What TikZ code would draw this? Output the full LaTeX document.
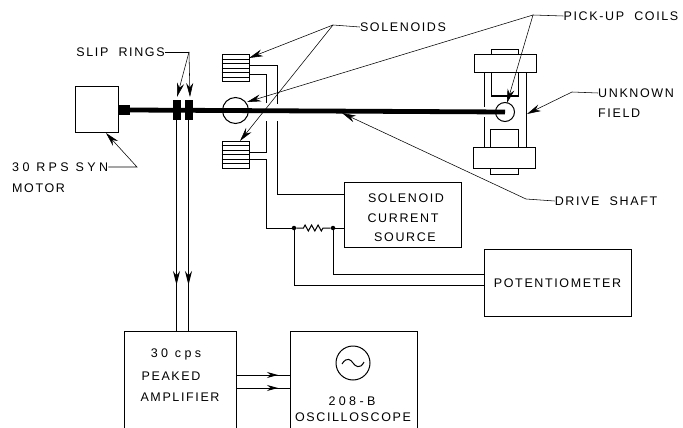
\documentclass[tikz,border=0pt]{standalone}
\usepackage{fontspec}
\setmainfont[LetterSpace=13]{Liberation Sans}
\newfontface\widefont[LetterSpace=27]{Liberation Sans}
\usetikzlibrary{positioning,shapes,arrows.meta,decorations.pathmorphing}

\tikzset{
	box/.style={draw, rectangle, line width=1pt, inner sep=0pt},
	lbl/.style={font=\fontsize{12.5}{14}\selectfont, inner sep=0pt},
	lblwide/.style={font=\fontsize{12.5}{14}\selectfont\widefont, inner sep=0pt},
	wire/.style={line width=1pt},
	leader/.style={line width=0.55pt},
	tip/.style={-{Stealth[length=14pt,width=7pt]}},
	tipshort/.style={-{Stealth[length=11pt,width=6pt]}},
	shaft/.style={line width=4.8pt},
	dot/.style={circle, fill, inner sep=0pt, minimum size=4.5pt}
}

\begin{document}
\begin{tikzpicture}[x=1pt,y=-1pt]
		\path[use as bounding box, clip] (0, 0) rectangle (683, 428);
		
		% motor and shaft
		\node[box, minimum width=43pt, minimum height=45pt] (motor) at (96.5, 109.5) {};
		\node[box, fill, minimum width=11pt, minimum height=9pt] (stub) at (124, 110) {};
		\node[box, fill, minimum width=7pt, minimum height=19pt] (ringa) at (176.5, 110) {};
		\node[box, fill, minimum width=7pt, minimum height=19pt] (ringb) at (188.5, 110) {};
		\node[draw, circle, line width=1pt, minimum size=26pt, inner sep=0pt] (coilleft) at (235.5, 110.5) {};
		\node[draw, circle, line width=1pt, minimum size=19pt, inner sep=0pt] (coilright) at (505, 112) {};
		\draw[shaft] (stub.east) -- (coilright.center);
		
		% solenoids
		\node[box, minimum width=27pt, minimum height=27pt] (solup) at (235.5, 68.5) {};
		\node[box, minimum width=27pt, minimum height=27pt] (sollow) at (235.5, 154.5) {};
		\foreach \y in {-9, -4.5, 0, 4.5, 9} {
			\draw[wire] ([yshift=\y pt]solup.west) -- ([yshift=\y pt]solup.east);
			\draw[wire] ([yshift=\y pt]sollow.west) -- ([yshift=\y pt]sollow.east);
		}
		
		% field magnet
		\node[box, minimum width=62pt, minimum height=18pt] (platetop) at (505, 64) {};
		\node[box, minimum width=62pt, minimum height=21pt] (platelow) at (504, 157.5) {};
		\node[box, minimum width=27pt, minimum height=5pt] (tabtop) at (504.5, 52.5) {};
		\node[box, minimum width=28pt, minimum height=6pt] (tablow) at (504, 171) {};
		\node[box, minimum width=27pt, minimum height=23pt] (poletop) at (504.5, 84.5) {};
		\node[box, minimum width=28pt, minimum height=18pt] (polelow) at (504, 138) {};
		\coordinate (yokea) at (484, 73);
		\coordinate (yokeb) at (484, 107);
		\coordinate (yokec) at (484, 117);
		\coordinate (yoked) at (484, 147);
		\coordinate (yokee) at (526, 73);
		\coordinate (yokef) at (526, 147);
		\draw[wire] (yokea) -- (yokeb);
		\draw[wire] (yokec) -- (yoked);
		\draw[wire] (yokee) -- (yokef);
		
		% blocks
		\node[box, minimum width=117pt, minimum height=65pt] (source) at (402.5, 214.5) {};
		\node[box, minimum width=147pt, minimum height=67pt] (pot) at (557.5, 282.5) {};
		\node[box, minimum width=112pt, minimum height=120pt] (amp) at (180, 391) {};
		\node[box, minimum width=127pt, minimum height=120pt] (scope) at (353.5, 391) {};
		\node[draw, circle, line width=1pt, minimum size=34pt, inner sep=0pt] (sine) at (353, 363) {};
		\coordinate (sinea) at (342, 364);
		\coordinate (sineb) at (364, 362);
		\draw[wire] (sinea) .. controls (347, 356) and (351, 360) .. (353, 363) .. controls (355, 366) and (360, 370) .. (sineb);
		
		% solenoid wiring
		\coordinate (ua) at (249, 66);
		\coordinate (ub) at (277, 66);
		\coordinate (uc) at (277, 104);
		\coordinate (ud) at (277, 121);
		\coordinate (ue) at (277, 194);
		\coordinate (uf) at (344, 194);
		\draw[wire] (ua) -- (ub) -- (uc);
		\draw[wire] (ud) -- (ue) -- (uf);
		\coordinate (va) at (249, 75);
		\coordinate (vb) at (266, 75);
		\coordinate (vc) at (266, 103);
		\coordinate (vd) at (266, 121);
		\coordinate (ve) at (266, 152);
		\coordinate (vf) at (249, 152);
		\draw[wire] (va) -- (vb) -- (vc);
		\draw[wire] (vd) -- (ve) -- (vf);
		
		% resistor
		\node[dot] (resl) at (294, 228) {};
		\node[dot] (resr) at (333, 228) {};
		\coordinate (wa) at (249, 159);
		\coordinate (wb) at (266, 159);
		\coordinate (wc) at (266, 228);
		\coordinate (wd) at (344, 228);
		\draw[wire] (wa) -- (wb) -- (wc) -- (resl);
		\draw[wire, decorate, decoration={zigzag, amplitude=3pt, segment length=6.5pt, pre length=7pt, post length=6pt}] (resl) -- (resr);
		\draw[wire] (resr) -- (wd);
		\coordinate (pa) at (294, 285);
		\coordinate (pb) at (484, 285);
		\coordinate (qa) at (333, 274);
		\coordinate (qb) at (484, 274);
		\draw[wire] (resl) -- (pa) -- (pb);
		\draw[wire] (resr) -- (qa) -- (qb);
		
		% signal wires
		\coordinate (ra) at (176.5, 119);
		\coordinate (rb) at (176.5, 285);
		\coordinate (rc) at (176.5, 331);
		\coordinate (sa) at (188.5, 119);
		\coordinate (sb) at (188.5, 285);
		\coordinate (sc) at (188.5, 331);
		\draw[wire] (ra) -- (rc);
		\draw[wire, tip] (ra) -- (rb);
		\draw[wire] (sa) -- (sc);
		\draw[wire, tip] (sa) -- (sb);
		\coordinate (ta) at (236, 375);
		\coordinate (tb) at (278, 375);
		\coordinate (tc) at (290, 375);
		\coordinate (xa) at (236, 388);
		\coordinate (xb) at (278, 388);
		\coordinate (xc) at (290, 388);
		\draw[wire] (ta) -- (tc);
		\draw[wire, tipshort] (ta) -- (tb);
		\draw[wire] (xa) -- (xc);
		\draw[wire, tipshort] (xa) -- (xb);
		
		% labels
		\node[lbl] (slip) at (120.5, 52) {SLIP~~RINGS};
		\node[lblwide, anchor=west] (syn) at (12, 167) {30 RPS SYN};
		\node[lbl, anchor=west] (mot) at (12, 188) {MOTOR};
		\node[lbl] (sol) at (403, 27) {SOLENOIDS};
		\node[lbl] (pick) at (621, 16) {PICK-UP~~COILS};
		\node[lbl, anchor=west] (unk) at (598, 93) {UNKNOWN};
		\node[lbl, anchor=west] (fld) at (598, 113) {FIELD};
		\node[lbl] (drive) at (606, 201) {DRIVE~~SHAFT};
		\node[lbl] (srca) at (406, 198) {SOLENOID};
		\node[lbl] (srcb) at (403, 218) {CURRENT};
		\node[lbl] (srcc) at (405, 237) {SOURCE};
		\node[lbl] (pott) at (557.5, 283) {POTENTIOMETER};
		\node[lblwide] (ampa) at (176, 354) {30 cps};
		\node[lbl] (ampb) at (171, 376) {PEAKED};
		\node[lbl] (ampc) at (180, 397) {AMPLIFIER};
		\node[lblwide] (scpa) at (352, 401) {208-B};
		\node[lbl] (scpb) at (353, 417) {OSCILLOSCOPE};
		
		% leaders
		\coordinate (sliphub) at (189, 52);
		\coordinate (slipa) at (177, 97);
		\coordinate (slipb) at (190, 97);
		\draw[leader] (slip.east) -- (sliphub);
		\draw[leader, tip] (sliphub) -- (slipa);
		\draw[leader, tip] (sliphub) -- (slipb);
		\coordinate (synhub) at (137, 167);
		\coordinate (syntip) at (106, 133);
		\draw[leader, tip] (syn.east) -- (synhub) -- (syntip);
		\coordinate (solhub) at (333, 25);
		\coordinate (solupt) at (249, 58);
		\coordinate (sollowt) at (240, 141);
		\draw[leader] (sol.west) -- (solhub);
		\draw[leader, tip] (solhub) -- (solupt);
		\draw[leader, tip] (solhub) -- (sollowt);
		\coordinate (pickhub) at (533, 15);
		\coordinate (picklt) at (247, 102);
		\coordinate (pickrt) at (507, 103);
		\draw[leader] (pick.west) -- (pickhub);
		\draw[leader, tip] (pickhub) -- (picklt);
		\draw[leader, tip] (pickhub) -- (pickrt);
		\coordinate (unkhub) at (572, 92);
		\coordinate (unktip) at (527, 114);
		\draw[leader, tip] (unk.west) -- (unkhub) -- (unktip);
		\coordinate (drvhub) at (526, 199);
		\coordinate (drvtip) at (342, 113);
		\draw[leader, tip] (drive.west) -- (drvhub) -- (drvtip);
		
	\end{tikzpicture}
\end{document}
